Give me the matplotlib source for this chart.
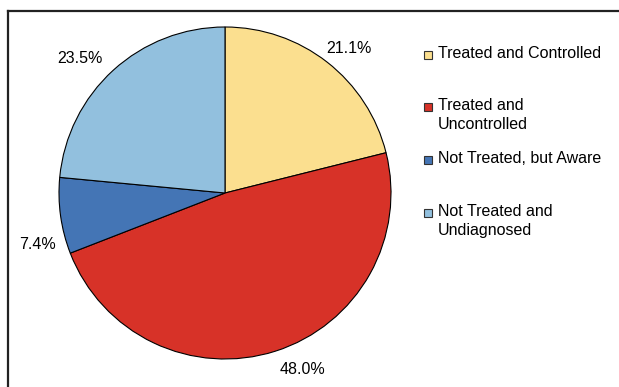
import matplotlib.pyplot as plt
from matplotlib.patches import Rectangle

plt.rcParams['font.family'] = ['Liberation Sans', 'DejaVu Sans']

labels = ['Treated and Controlled', 'Treated and\nUncontrolled',
          'Not Treated, but Aware', 'Not Treated and\nUndiagnosed']
values = [21.1, 48.0, 7.4, 23.5]
colors = ['#FBDF8F', '#D73228', '#4475B5', '#92C0DE']

W, H = 619, 387
fig = plt.figure(figsize=(W / 100, H / 100), dpi=100)

# frame line (cut off on right and bottom)
fig.add_artist(plt.Line2D([8 / W, 8 / W], [0, 1 - 11 / H], color='#222222', lw=1.6))
fig.add_artist(plt.Line2D([8 / W, 1], [1 - 11 / H, 1 - 11 / H], color='#222222', lw=1.6))

cx, cy, r = 225, 193, 166
ax = fig.add_axes([(cx - r) / W, (H - cy - r) / H, 2 * r / W, 2 * r / H])
wedges, texts, pcts = ax.pie(values, colors=colors, startangle=90, counterclock=False,
                             autopct='%.1f%%', pctdistance=1.16,
                             wedgeprops=dict(edgecolor='black', linewidth=0.8),
                             textprops=dict(fontsize=11.5, color='black'), radius=1)
# label placement as in the original
label_pos = [(0.747, 0.870), (0.464, -1.066), (-1.127, -0.313), (-0.873, 0.809)]
for t, p in zip(pcts, label_pos):
    t.set_position(p)
ax.set_xlim(-1.0, 1.0)
ax.set_ylim(-1.0, 1.0)
ax.set_aspect('equal')
ax.axis('off')

# legend
ys = [55, 107, 160, 213]
for lab, col, y in zip(labels, colors, ys):
    fig.add_artist(Rectangle((424 / W, 1 - (y + 4) / H), 8 / W, 8 / H,
                             facecolor=col, edgecolor='#333333', lw=0.8))
    fig.text(438 / W, 1 - (y - 9) / H, lab, fontsize=11.5, va='top',
             ha='left', linespacing=1.32)

fig.savefig('out.png', dpi=100)
